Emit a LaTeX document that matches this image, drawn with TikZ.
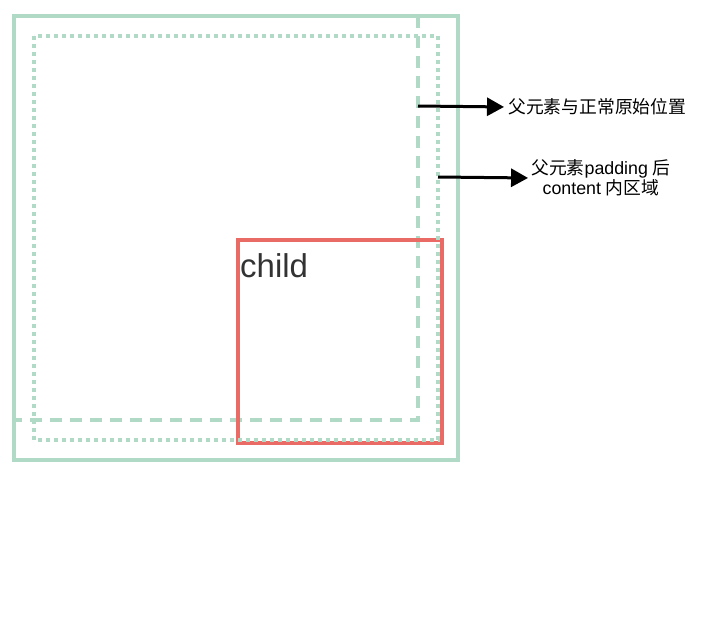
\documentclass[tikz,border=0pt]{standalone}
\usepackage{fontspec}
\setmainfont{Liberation Sans}
\newfontfamily\cjk{Noto Sans CJK SC}
\usetikzlibrary{arrows.meta}
\definecolor{grn}{HTML}{B0D9C6}
\definecolor{redc}{HTML}{EA6B66}
\definecolor{txt}{HTML}{333333}
\tikzset{
  box/.style={draw=grn, line width=3.5pt},
  dashbox/.style={draw=grn, line width=3.5pt, dash pattern=on 12pt off 8pt},
  dotbox/.style={draw=grn, line width=3.5pt, dash pattern=on 4pt off 4pt},
  childbox/.style={draw=redc, line width=3.5pt},
  conn/.style={line width=3pt, -{Triangle[length=17pt,width=18pt]}},
  lbl/.style={font=\fontsize{17.8}{20}\selectfont, inner sep=0pt, align=center}
}
\begin{document}
\begin{tikzpicture}[x=1pt,y=-1pt]
\useasboundingbox (0,0) rectangle (720,616);
\fill[white] (0,0) rectangle (720,616);
% dashed: parent normal position
\draw[dashbox] (14,16) rectangle (418,420);
% outer solid
\draw[box] (14,16) rectangle (458,460);
% child
\draw[childbox] (238,240) rectangle (442,443);
% dotted: content area
\draw[dotbox] (34,36) rectangle (438,440);
\node[anchor=base west, inner sep=0, text=txt, font=\fontsize{33}{36}\selectfont] (child) at (240,277) {child};
% labels
\node[lbl, anchor=west] (t1) at (508,107) {\cjk 父元素与正常原始位置};
\node[lbl] (t2) at (601,178) {{\cjk 父元素}padding {\cjk 后}\\content {\cjk 内区域}};
\coordinate (s1) at (418,106);
\coordinate (s2) at (438,177);
\draw[conn, shorten >=4pt] (s1) -- (t1.west);
\draw[conn, shorten >=3pt] (s2) -- (t2.west);
\end{tikzpicture}
\end{document}
